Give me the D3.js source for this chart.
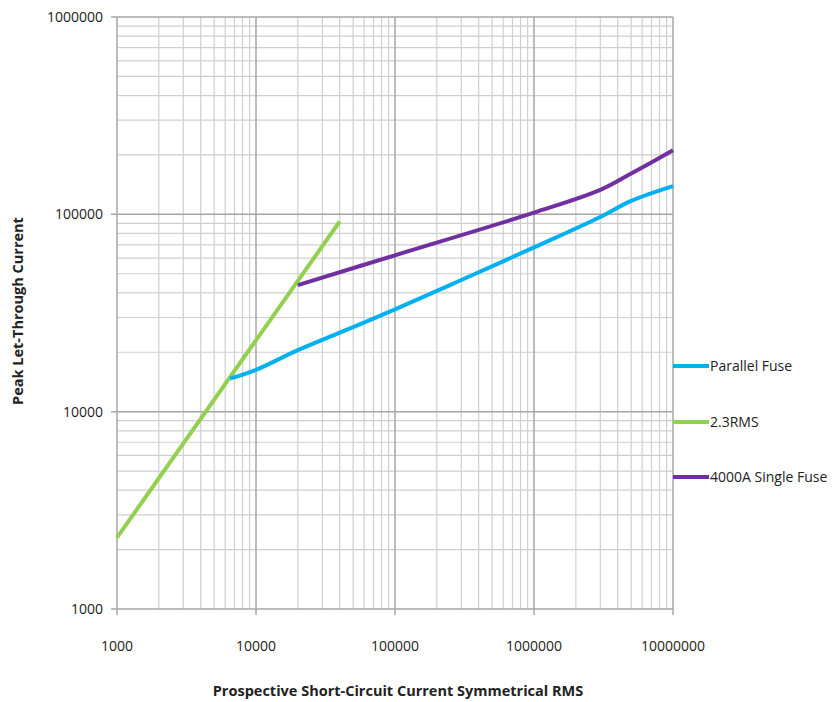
<!DOCTYPE html>
<html><head><meta charset="utf-8">
<script src="https://cdn.jsdelivr.net/npm/d3@7/dist/d3.min.js"></script>
<style>body{margin:0;background:#fff}svg{display:block}text{font-family:"Open Sans","Liberation Sans",sans-serif}</style>
</head><body>
<script>
const xTicks = [1000, 10000, 100000, 1000000, 10000000];
const yTicks = [1000, 10000, 100000, 1000000];
const seriesNames = ["Parallel Fuse", "2.3RMS", "4000A Single Fuse"];
const seriesColors = ["#00b0f0", "#92d050", "#7030a0"];
const parallelX = [6500, 10000, 20000, 50000, 100000, 300000, 1000000, 3000000, 5000000, 10000000];
const parallelY = [14700, 16300, 20500, 26800, 33000, 46500, 68000, 97000, 117000, 139000];
const rmsX = [1000, 40000];
const rmsY = [2300, 92000];
const singleX = [20000, 100000, 1000000, 3000000, 5000000, 10000000];
const singleY = [43800, 62000, 102000, 133000, 161000, 211000];

const W = 837, H = 702;
const L = 117, R = 673, T = 17, B = 609;
const svg = d3.select("body").append("svg").attr("width", W).attr("height", H);
const x = d3.scaleLog().domain([1000, 10000000]).range([L, R]);
const y = d3.scaleLog().domain([1000, 1000000]).range([B, T]);

// minor grid
const minorX = [], minorY = [];
for (let d = 1000; d < 10000000; d *= 10) for (let k = 2; k <= 9; k++) minorX.push(d * k);
for (let d = 1000; d < 1000000; d *= 10) for (let k = 2; k <= 9; k++) minorY.push(d * k);
const g = svg.append("g");
g.selectAll(".mx").data(minorX).join("line")
  .attr("x1", d => x(d)).attr("x2", d => x(d)).attr("y1", T).attr("y2", B)
  .attr("stroke", "#cfcfcf").attr("stroke-width", 1.2);
g.selectAll(".my").data(minorY).join("line")
  .attr("x1", L).attr("x2", R).attr("y1", d => y(d)).attr("y2", d => y(d))
  .attr("stroke", "#cfcfcf").attr("stroke-width", 1.2);
g.selectAll(".Mx").data(xTicks).join("line")
  .attr("x1", d => x(d)).attr("x2", d => x(d)).attr("y1", T).attr("y2", B + 6)
  .attr("stroke", "#a6a6a6").attr("stroke-width", 1.5);
g.selectAll(".My").data(yTicks).join("line")
  .attr("x1", L - 6).attr("x2", R).attr("y1", d => y(d)).attr("y2", d => y(d))
  .attr("stroke", "#a6a6a6").attr("stroke-width", 1.5);

// tick labels
svg.selectAll(".xl").data(xTicks).join("text")
  .attr("x", d => x(d)).attr("y", 651).attr("text-anchor", "middle")
  .attr("font-size", 14).attr("fill", "#222").text(d => d);
svg.selectAll(".yl").data(yTicks).join("text")
  .attr("x", 103).attr("y", d => y(d) + 5).attr("text-anchor", "end")
  .attr("font-size", 14).attr("fill", "#222").text(d => d);

// axis titles
svg.append("text").attr("x", 398).attr("y", 696).attr("text-anchor", "middle")
  .attr("font-size", 14.5).attr("font-weight", "bold").attr("fill", "#222")
  .text("Prospective Short-Circuit Current Symmetrical RMS");
svg.append("text").attr("transform", "translate(23,311) rotate(-90)").attr("text-anchor", "middle")
  .attr("font-size", 14.5).attr("font-weight", "bold").attr("fill", "#222")
  .text("Peak Let-Through Current");

// series
const line = d3.line().x(d => x(d[0])).y(d => y(d[1])).curve(d3.curveCatmullRom.alpha(0.5));
const series = [d3.zip(parallelX, parallelY), d3.zip(rmsX, rmsY), d3.zip(singleX, singleY)];
const order = [1, 0, 2];
order.forEach(i => {
  svg.append("path").attr("d", line(series[i])).attr("fill", "none")
    .attr("stroke", seriesColors[i]).attr("stroke-width", 4).attr("stroke-linecap", "butt");
});

// legend
const legY = [366, 422, 477];
seriesNames.forEach((n, i) => {
  svg.append("line").attr("x1", 673).attr("x2", 709).attr("y1", legY[i]).attr("y2", legY[i])
    .attr("stroke", seriesColors[i]).attr("stroke-width", 4);
  svg.append("text").attr("x", 710).attr("y", legY[i] + 5).attr("font-size", 14)
    .attr("fill", "#222").text(n);
});
</script>
</body></html>
